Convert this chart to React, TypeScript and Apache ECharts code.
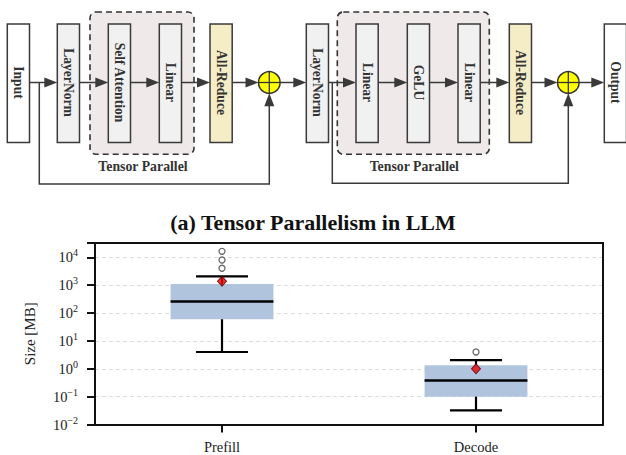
import React, { useEffect, useRef } from "react";
import * as echarts from "echarts";

// ---- chart data ----
const categories = ["Prefill", "Decode"];
const whiskerLow = [4.0, 0.032];
const quartile1 = [60, 0.1];
const medians = [258, 0.38];
const quartile3 = [1100, 1.35];
const whiskerHigh = [2080, 2.03];
const means = [1380, 1.0];
const outlierCategory = [0, 0, 0, 1];
const outlierValues = [16400, 8000, 4040, 4.0];
const yMin = 0.01;
const yMax = 32600;

// ---- diagram labels ----
const blockLabels = ["Input", "LayerNorm", "Self Attention", "Linear", "All-Reduce", "LayerNorm", "Linear", "GeLU", "Linear", "All-Reduce", "Output"];
const groupLabel = "Tensor Parallel";
const titleText = "(a) Tensor Parallelism in LLM";

const FONT = "'Liberation Serif', 'DejaVu Serif', serif";
const LINE = "#3a3a3a";

function buildDiagram(): any[] {
  const top = 24;
  const bottom = 142.5;
  const midY = 82.5;
  const kinds = ["io", "norm", "norm", "norm", "reduce", "norm", "norm", "norm", "norm", "reduce", "io"];
  const lefts = [7.3, 57.3, 108.3, 159.3, 210, 306.3, 356, 407.3, 458, 509.3, 604.3];
  const w = 22.2;
  const fills: Record<string, string> = { io: "#ffffff", norm: "#f1f1f1", reduce: "#f4edc6" };
  const els: any[] = [];
  const regions = [
    [90, 194],
    [337.3, 489.3],
  ];
  regions.forEach(([x0, x1]) => {
    els.push({
      type: "rect",
      shape: { x: x0, y: 12, width: x1 - x0, height: 142.3, r: 6 },
      style: { fill: "#efeae9", stroke: "#333", lineWidth: 1.6, lineDash: [6, 4] },
      z: 1,
    });
    els.push({
      type: "text",
      x: (x0 + x1) / 2 + 1,
      y: 166,
      style: { text: groupLabel, fontFamily: FONT, fontWeight: "bold", fontSize: 13.8, fill: "#333", align: "center", verticalAlign: "middle" },
      z: 2,
    });
  });
  blockLabels.forEach((label, i) => {
    els.push({
      type: "rect",
      shape: { x: lefts[i], y: top, width: w, height: bottom - top },
      style: { fill: fills[kinds[i]], stroke: LINE, lineWidth: 1.5 },
      z: 3,
    });
    els.push({
      type: "text",
      x: lefts[i] + w / 2,
      y: midY,
      rotation: -Math.PI / 2,
      style: { text: label, fontFamily: FONT, fontWeight: "bold", fontSize: 13.6, fill: "#333", align: "center", verticalAlign: "middle" },
      z: 4,
    });
  });
  const circles = [269.3, 568.3];
  const r = 10.8;
  const arrowRight = (x0: number, x1: number) => {
    els.push({ type: "line", shape: { x1: x0, y1: midY, x2: x1 - 10, y2: midY }, style: { stroke: LINE, lineWidth: 1.5 }, z: 2 });
    els.push({
      type: "polygon",
      shape: { points: [[x1, midY], [x1 - 13, midY - 5], [x1 - 13, midY + 5]] },
      style: { fill: LINE },
      z: 2,
    });
  };
  const rights = lefts.map((l) => l + w);
  arrowRight(rights[0], lefts[1]);
  arrowRight(rights[1], lefts[2]);
  arrowRight(rights[2], lefts[3]);
  arrowRight(rights[3], lefts[4]);
  arrowRight(rights[4], circles[0] - r);
  arrowRight(circles[0] + r, lefts[5]);
  arrowRight(rights[5], lefts[6]);
  arrowRight(rights[6], lefts[7]);
  arrowRight(rights[7], lefts[8]);
  arrowRight(rights[8], lefts[9]);
  arrowRight(rights[9], circles[1] - r);
  arrowRight(circles[1] + r, lefts[10]);
  const skips = [
    [39.3, 184, circles[0]],
    [332.3, 183.3, circles[1]],
  ];
  skips.forEach(([xs, yb, xc]) => {
    els.push({
      type: "polyline",
      shape: { points: [[xs, midY], [xs, yb], [xc, yb], [xc, midY + r + 10]] },
      style: { stroke: LINE, lineWidth: 1.5, fill: null },
      z: 2,
    });
    const tip = midY + r;
    els.push({
      type: "polygon",
      shape: { points: [[xc, tip], [xc - 5, tip + 13], [xc + 5, tip + 13]] },
      style: { fill: LINE },
      z: 2,
    });
  });
  circles.forEach((cx) => {
    els.push({ type: "circle", shape: { cx, cy: midY, r }, style: { fill: "#ffff00", stroke: "#333", lineWidth: 1.5 }, z: 5 });
    els.push({ type: "line", shape: { x1: cx - r, y1: midY, x2: cx + r, y2: midY }, style: { stroke: "#333", lineWidth: 1.3 }, z: 6 });
    els.push({ type: "line", shape: { x1: cx, y1: midY - r, x2: cx, y2: midY + r }, style: { stroke: "#333", lineWidth: 1.3 }, z: 6 });
  });
  return els;
}

function tickLabel(v: number): string {
  const lg = Math.log10(v);
  const e = Math.round(lg);
  if (Math.abs(lg - e) > 0.01) return "";
  const exp = e < 0 ? "\u2212" + Math.abs(e) : String(e);
  return `{b|10}{s|${exp}}`;
}

const frameLine = { show: true, lineStyle: { color: "#111", width: 2 } };

export default function App() {
  const ref = useRef<HTMLDivElement>(null);
  useEffect(() => {
    if (!ref.current) return;
    const chart = echarts.init(ref.current, null, { renderer: "svg" });
    const boxData = categories.map((_, i) => [i, whiskerLow[i], quartile1[i], medians[i], quartile3[i], whiskerHigh[i]]);
    const option: any = {
      animation: false,
      backgroundColor: "#ffffff",
      title: {
        text: titleText,
        left: "center",
        top: 211,
        padding: [0, 0, 0, 6],
        textStyle: { fontFamily: FONT, fontWeight: "bold", fontSize: 22, color: "#111" },
      },
      grid: { left: 95, top: 243, width: 508, height: 181.5 },
      xAxis: [
        {
          type: "category",
          data: categories,
          axisLine: frameLine,
          axisTick: { show: true, alignWithLabel: true, length: 8, lineStyle: { color: "#111", width: 2 } },
          axisLabel: { margin: 15, fontFamily: FONT, fontSize: 14.5, color: "#222" },
          splitLine: { show: false },
          z: 10,
        },
        {
          type: "category",
          position: "top",
          data: categories,
          axisLine: frameLine,
          axisTick: { show: false },
          axisLabel: { show: false },
          splitLine: { show: false },
          z: 10,
        },
      ],
      yAxis: [
        {
          type: "log",
          logBase: 10,
          min: yMin,
          max: yMax,
          name: "Size [MB]",
          nameLocation: "middle",
          nameGap: 58,
          nameTextStyle: { fontFamily: FONT, fontSize: 15, color: "#222" },
          axisLine: frameLine,
          axisTick: { show: true, length: 8, lineStyle: { color: "#111", width: 2 } },
          minorTick: { show: false },
          axisLabel: {
            margin: 17,
            formatter: tickLabel,
            rich: {
              b: { fontFamily: FONT, fontSize: 14.5, color: "#222" },
              s: { fontFamily: FONT, fontSize: 10, color: "#222", verticalAlign: "top", padding: [0, 0, 9, 0] },
            },
          },
          splitLine: { show: true, lineStyle: { color: "#dcdcdc", type: [4, 3], width: 1 } },
        },
        {
          type: "log",
          logBase: 10,
          min: yMin,
          max: yMax,
          position: "right",
          axisLine: frameLine,
          axisTick: { show: false },
          axisLabel: { show: false },
          splitLine: { show: false },
          z: 10,
        },
      ],
      graphic: buildDiagram(),
      series: [
        {
          type: "custom",
          data: boxData,
          encode: { x: 0, y: [1, 2, 3, 4, 5] },
          z: 3,
          renderItem: (params: any, api: any) => {
            const idx = api.value(0);
            const band = api.size([1, 0])[0];
            const bw = band * 0.405;
            const cw = band * 0.205;
            const [cx, yl] = api.coord([idx, api.value(1)]);
            const yq1 = api.coord([idx, api.value(2)])[1];
            const ym = api.coord([idx, api.value(3)])[1];
            const yq3 = api.coord([idx, api.value(4)])[1];
            const yh = api.coord([idx, api.value(5)])[1];
            const ls = { stroke: "#000", lineWidth: 2.2 };
            return {
              type: "group",
              children: [
                { type: "rect", shape: { x: cx - bw / 2, y: yq3, width: bw, height: yq1 - yq3 }, style: { fill: "#b0c4de" } },
                { type: "line", shape: { x1: cx, y1: yq3, x2: cx, y2: yh }, style: ls },
                { type: "line", shape: { x1: cx, y1: yq1, x2: cx, y2: yl }, style: ls },
                { type: "line", shape: { x1: cx - cw / 2, y1: yh, x2: cx + cw / 2, y2: yh }, style: ls },
                { type: "line", shape: { x1: cx - cw / 2, y1: yl, x2: cx + cw / 2, y2: yl }, style: ls },
                { type: "line", shape: { x1: cx - bw / 2, y1: ym, x2: cx + bw / 2, y2: ym }, style: { stroke: "#000", lineWidth: 2.6 } },
              ],
            };
          },
        },
        {
          type: "scatter",
          data: outlierValues.map((v, i) => [outlierCategory[i], v]),
          symbol: "circle",
          symbolSize: 6,
          itemStyle: { color: "#ffffff", borderColor: "#444", borderWidth: 1.3 },
          z: 4,
        },
        {
          type: "scatter",
          data: means.map((v, i) => [i, v]),
          symbol: "diamond",
          symbolSize: [9, 10],
          itemStyle: { color: "#ee0000", borderColor: "#550000", borderWidth: 1 },
          z: 5,
        },
      ],
    };
    chart.setOption(option);
    return () => chart.dispose();
  }, []);
  return <div ref={ref} style={{ position: "fixed", left: 0, top: 0, width: 626, height: 455 }} />;
}
